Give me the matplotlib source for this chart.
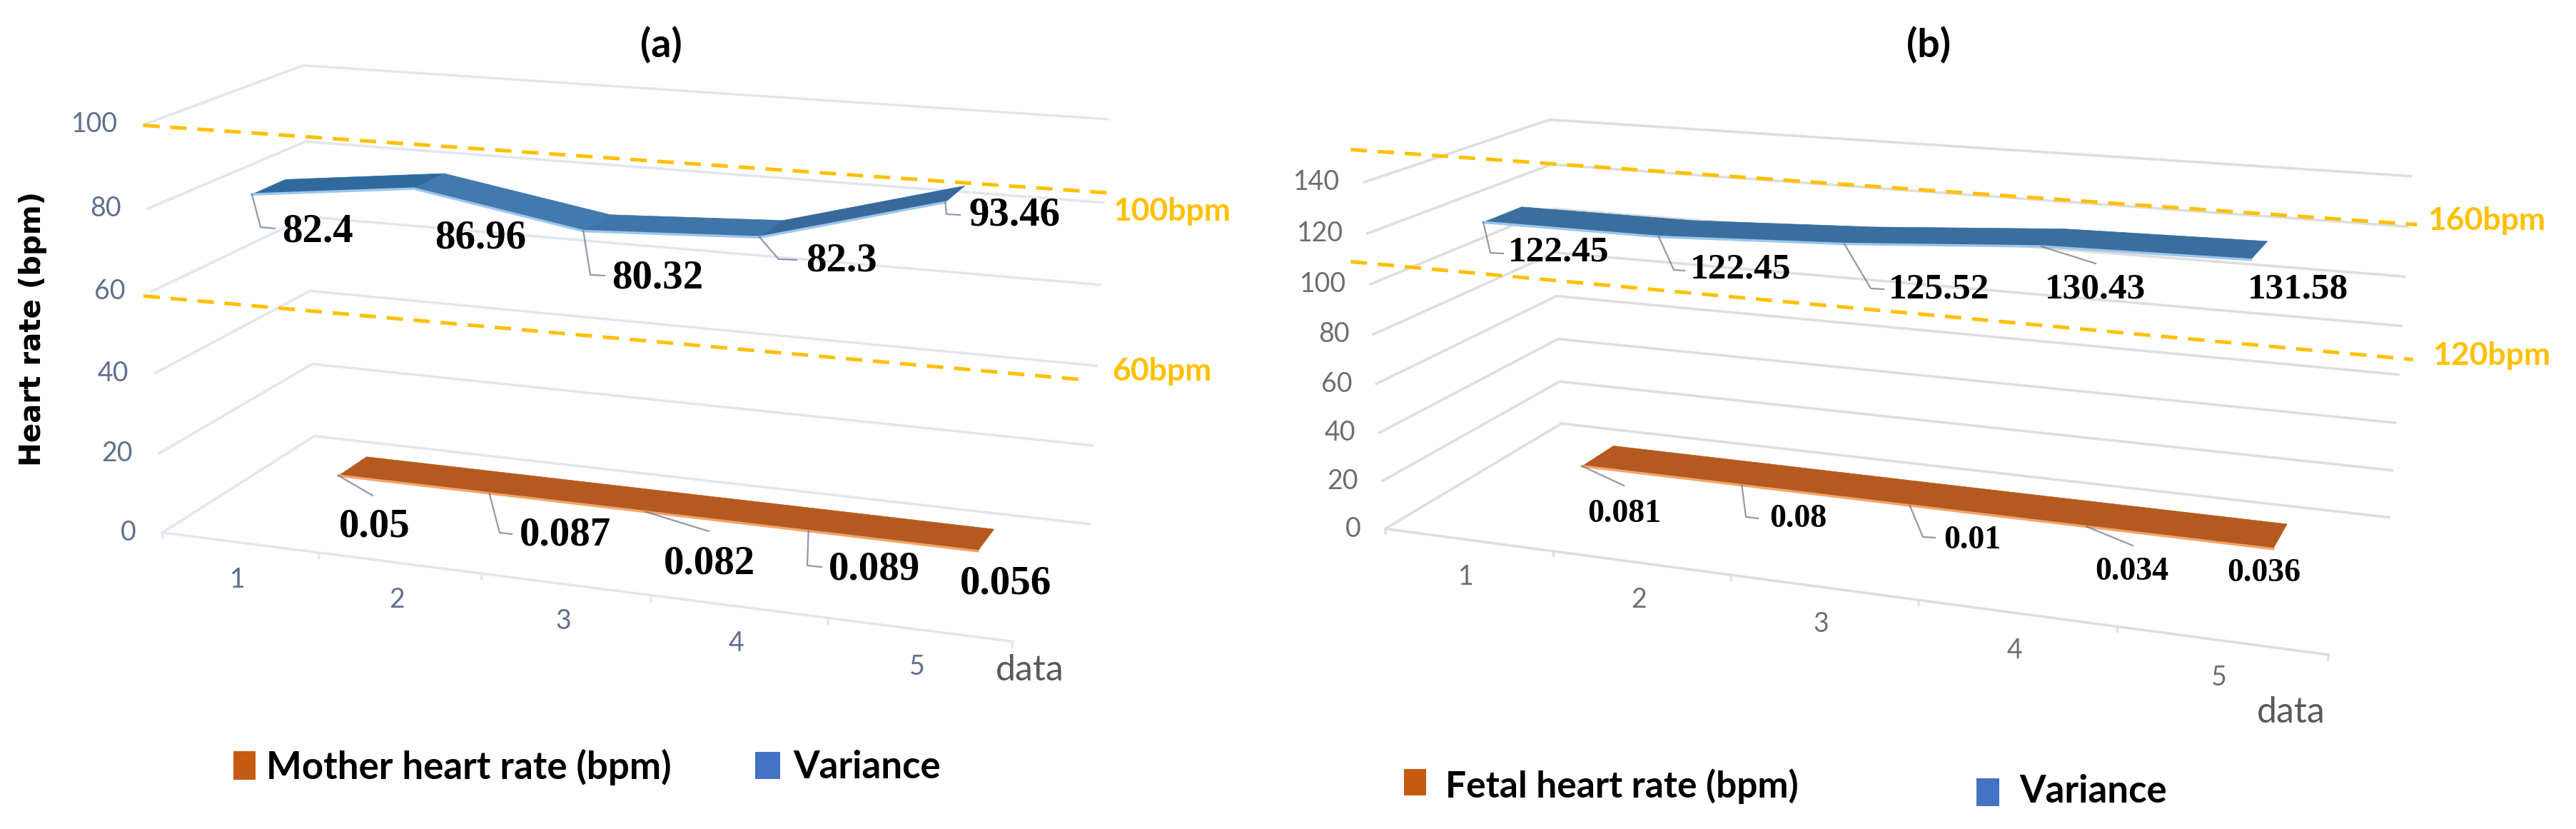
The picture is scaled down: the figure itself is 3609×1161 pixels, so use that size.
import numpy as np
import matplotlib
matplotlib.use("Agg")
import matplotlib.pyplot as plt
from matplotlib.lines import Line2D
from matplotlib.patches import Rectangle
from mpl_toolkits.mplot3d import proj3d
from mpl_toolkits.mplot3d.art3d import Poly3DCollection

W, H = 3609, 1161
S = 2000

categories = [1, 2, 3, 4, 5]

mother_rate = [0.05, 0.087, 0.082, 0.089, 0.056]
variance_a = [82.4, 86.96, 80.32, 82.3, 93.46]
fetal_rate = [0.081, 0.08, 0.01, 0.034, 0.036]
variance_b = [122.45, 122.45, 125.52, 130.43, 131.58]

ticks_a = [0, 20, 40, 60, 80, 100]
ticks_b = [0, 20, 40, 60, 80, 100, 120, 140]

# elev, azim, roll, focal length, depth and height aspect, zoom, axes centre in pixels
view_a = [15.2585, -69.8371, 0.0267, 0.3778, 0.3976, 0.4795, 0.7035, 852.3925, 487.6734]
view_b = [15.5477, -70.3623, -0.0969, 0.2975, 0.4009, 0.3747, 0.7383, 2623.1437, 523.7262]

GOLD = "#FFC000"

fig = plt.figure(figsize=(W / 100, H / 100), dpi=100)


def setup(ax, p, top):
    elev, azim, roll, fl, by, bz, zoom, cx, cy = p
    ax.set_xlim(0.5, 5.5)
    ax.set_ylim(0, 1)
    ax.set_zlim(0, top)
    ax.view_init(elev, azim, roll)
    ax.set_proj_type("persp", focal_length=fl)
    ax.set_box_aspect((1, by, bz), zoom=zoom)
    ax.set_position([(cx - S / 2) / W, 1 - (cy + S / 2) / H, S / W, S / H])
    ax.apply_aspect()


def proj(ax, x, y, z):
    xp, yp, _ = proj3d.proj_transform(x, y, z, ax.get_proj())
    px, py = ax.transData.transform((xp, yp))
    return px, H - py


def ftext(x, y, s, **kw):
    return fig.text(x / W, 1 - y / H, s, **kw)


def fline(xs, ys, **kw):
    fig.add_artist(Line2D(np.array(xs) / W, 1 - np.array(ys) / H, **kw))


def swatch(x0, y0, x1, y1, color):
    fig.add_artist(Rectangle((x0 / W, 1 - y1 / H), (x1 - x0) / W, (y1 - y0) / H,
                             facecolor=color, edgecolor="none", transform=fig.transFigure))


def ribbon(ax, vals, y0, y1, colors, edge):
    verts = []
    for i in range(4):
        verts.append([(categories[i], y0, vals[i]), (categories[i + 1], y0, vals[i + 1]),
                      (categories[i + 1], y1, vals[i + 1]), (categories[i], y1, vals[i])])
    ax.add_collection3d(Poly3DCollection(verts, facecolors=colors, edgecolors=colors,
                                         linewidths=0.5, zorder=3))
    ax.plot(categories, [y0] * 5, vals, color=edge, lw=2.5, zorder=4)


def panel(ax, p, top, ticks, grid, tickcol, rate, var, rate_y, var_y, var_colors,
          dashes, tick_dx, rate_sets, var_sets, rate_fs, var_fs):
    setup(ax, p, top)
    ax.set_axis_off()
    for t in ticks:
        ax.plot([.5, .5, 5.5], [0, 1, 1], [t, t, t], color=grid, lw=2.6, zorder=1)
    ax.plot([.5, 5.5], [0, 0], [0, 0], color=grid, lw=2.6, zorder=1)
    for x in np.arange(.5, 6):
        ax.plot([x, x], [0, 0], [0, -top * .014], color=grid, lw=2.2, zorder=1)

    ribbon(ax, rate, rate_y[0], rate_y[1], ["#B45A20"] * 4, "#F2A468")
    ribbon(ax, var, var_y[0], var_y[1], var_colors, "#9CC6EC")

    for z, xs, ys in dashes:
        ax.plot(xs, ys, [z, z], color=GOLD, lw=3.6, ls=(0, (4.6, 3)), zorder=5)

    for t in ticks:
        qx, qy = proj(ax, .5, 0, t)
        ftext(qx + tick_dx, qy, str(t), color=tickcol, fontsize=27, family="Lato",
              ha="right", va="center")
    for c in categories:
        qx, qy = proj(ax, c, 0, 0)
        ftext(qx - 3, qy + 52, str(c), color=tickcol, fontsize=27, family="Lato",
              ha="center", va="center")

    # data labels, each with its leader line back to the ribbon's front edge
    for vals, y, sets, fs in ((rate, rate_y[0], rate_sets, rate_fs), (var, var_y[0], var_sets, var_fs)):
        for c, v, (lx, ly, path) in zip(categories, vals, sets):
            ftext(lx, ly, str(v), family="Liberation Serif", weight="bold", fontsize=fs,
                  ha="center", va="center", color="black")
            if path:
                qx, qy = proj(ax, c, y, v)
                fline([qx] + [a[0] for a in path], [qy] + [a[1] for a in path],
                      color=tickcol, lw=1.6, alpha=.7)


ax_a = fig.add_axes([0, 0, S / W, S / H], projection="3d", facecolor="none", computed_zorder=False)
ax_b = fig.add_axes([0, 0, S / W, S / H], projection="3d", facecolor="none", computed_zorder=False)

labels_rate_a = [(525, 737, [(522, 694)]), (792, 750, [(700, 746), (717, 748)]),
                 (994, 789, [(993, 744)]), (1225, 798, [(1131, 792), (1151, 794)]),
                 (1409, 817, None)]
labels_var_a = [(445, 324, [(365, 318), (385, 320)]), (673, 333, None),
                (921, 390, [(827, 385), (847, 386)]), (1179, 365, [(1091, 363), (1116, 364)]),
                (1421, 302, [(1326, 300), (1345, 301)])]
labels_rate_b = [(2276, 720, [(2275, 680)]), (2519, 727, [(2446, 724), (2463, 726)]),
                 (2763, 757, [(2694, 752), (2711, 753)]), (2987, 801, [(2988, 764)]),
                 (3172, 803, None)]
labels_var_b = [(2184, 354, [(2088, 354), (2106, 355)]), (2439, 378, [(2345, 378), (2360, 379)]),
                (2717, 406, [(2621, 404), (2639, 405)]), (2935, 406, [(2936, 369)]),
                (3219, 406, None)]

panel(ax_a, view_a, 100, ticks_a, "#E1E6EF", "#5F6F8E", mother_rate, variance_a,
      (.655, .857), (.15, .36), ["#2F699E", "#4279AE", "#3F75A8", "#38699A"],
      [(100, [.507, 5.887], [-.011, .054]), (60, [.507, 5.795], [-.053, .021])],
      -37, labels_rate_a, labels_var_a, 41, 41)
panel(ax_b, view_b, 140, ticks_b, "#DEDEDE", "#6E6E6E", fetal_rate, variance_b,
      (.65, .852), (.155, .36), ["#3A6E9E"] * 4,
      [(160, [.746, 5.825], [-.241, -.218]), (120, [.766, 5.862], [-.286, -.297])],
      -34, labels_rate_b, labels_var_b, 33, 37)

ftext(926, 63, "(a)", family="Lato", weight="bold", fontsize=40, ha="center", va="center")
ftext(2702, 63, "(b)", family="Lato", weight="bold", fontsize=40, ha="center", va="center")
ftext(46, 461, "Heart rate (bpm)", family="DejaVu Sans", weight="bold", fontsize=29,
      rotation=90, ha="center", va="center")

for x, y, s in [(1642, 296, "100bpm"), (1628, 520, "60bpm"), (3484, 309, "160bpm"), (3491, 498, "120bpm")]:
    ftext(x, y, s, color=GOLD, family="Lato", weight="bold", fontsize=32, ha="center", va="center")
for x, y in [(1443, 939), (3210, 998)]:
    ftext(x, y, "data", color="#595959", family="Lato", fontsize=36, ha="center", va="center")

swatch(327, 1052, 358, 1092, "#C55A11")
swatch(1058, 1053, 1093, 1091, "#4472C4")
swatch(1967, 1077, 1998, 1114, "#C55A11")
swatch(2769, 1090, 2801, 1129, "#4472C4")
ftext(373, 1074, "Mother heart rate (bpm)", family="Lato", weight="bold", fontsize=38, va="center")
ftext(1111, 1074, "Variance", family="Lato", weight="bold", fontsize=38, va="center")
ftext(2025, 1101, "Fetal heart rate (bpm)", family="Lato", weight="bold", fontsize=37, va="center")
ftext(2829, 1108, "Variance", family="Lato", weight="bold", fontsize=38, va="center")

fig.savefig("out.png", dpi=100)
